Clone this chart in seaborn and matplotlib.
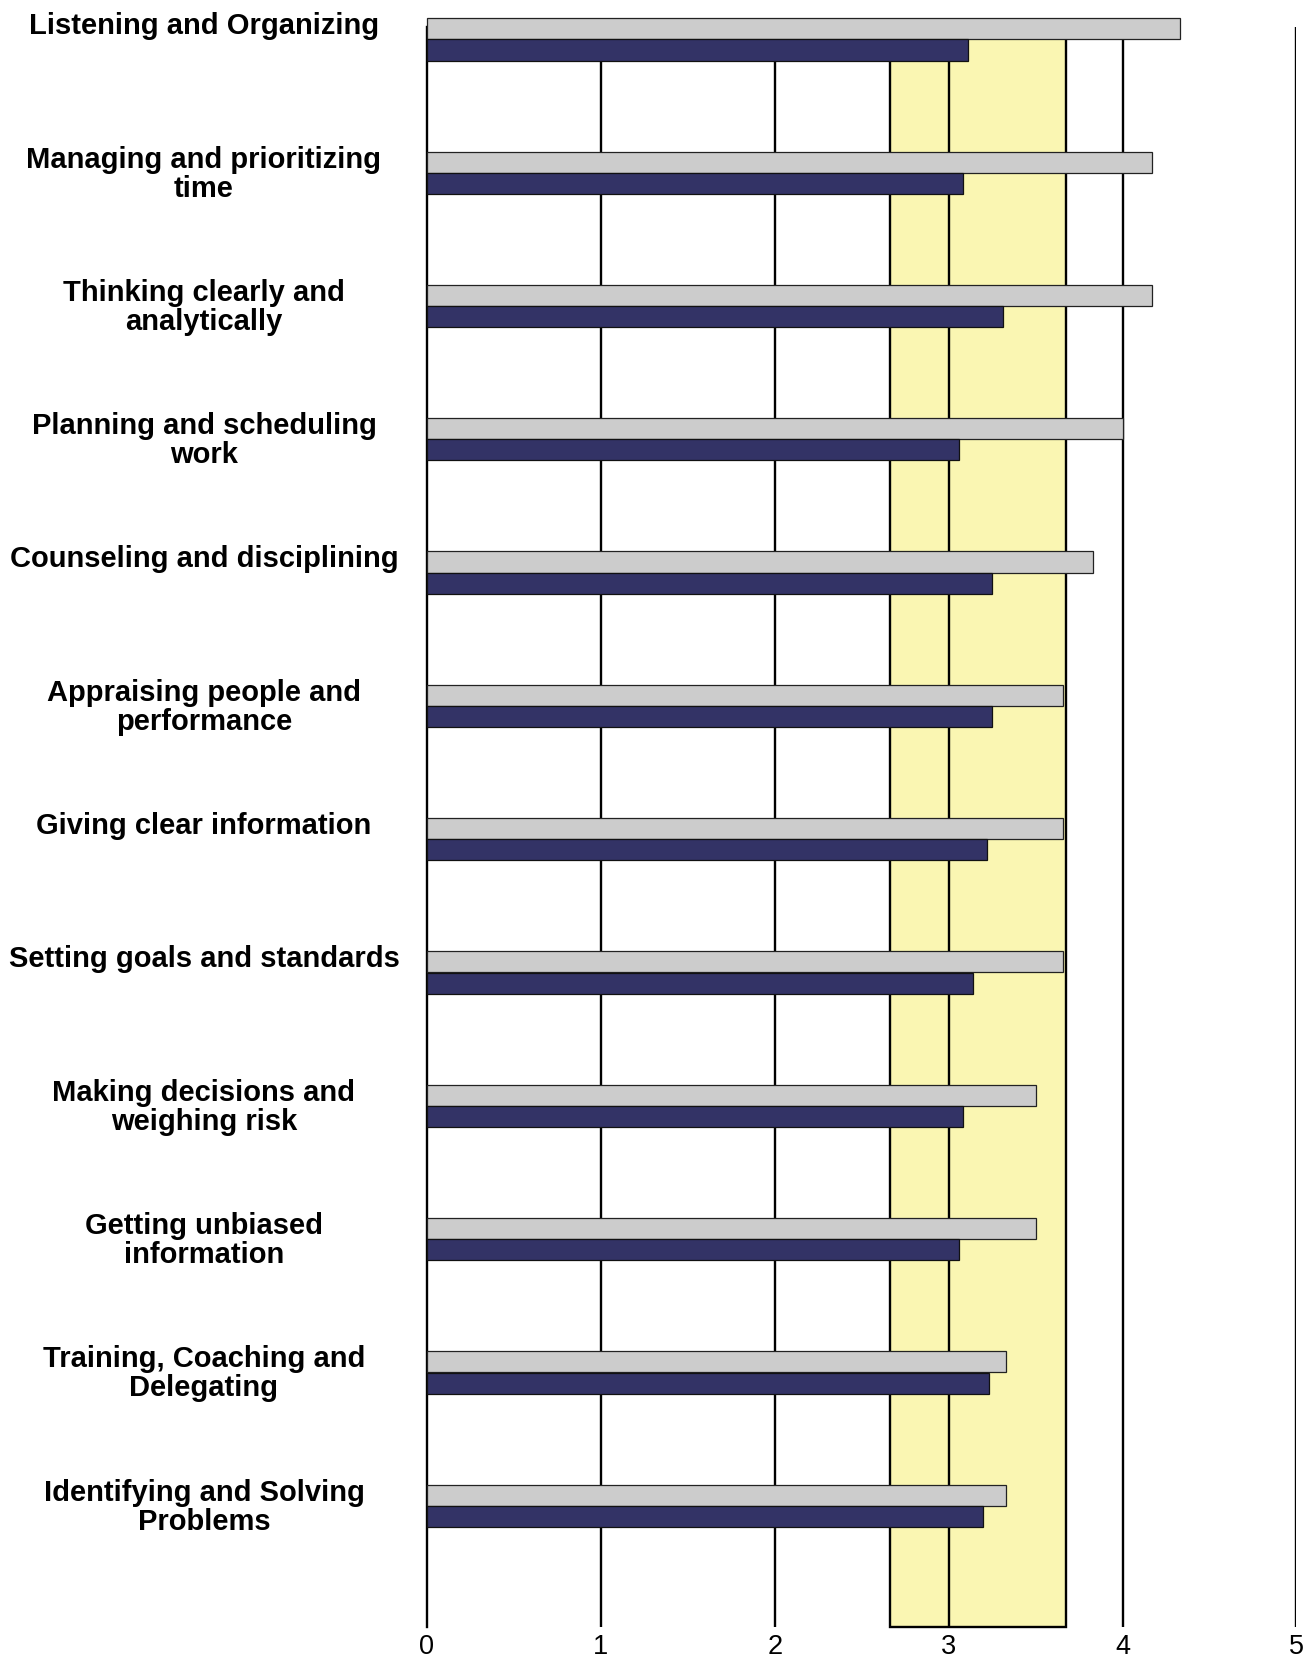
import numpy as np
import pandas as pd
import matplotlib
matplotlib.use("Agg")
import matplotlib.pyplot as plt
import matplotlib.transforms as mtransforms
import seaborn as sns

# Competency ratings: others' ratings (grey) vs self rating (navy)
categories = [
    "Listening and Organizing",
    "Managing and prioritizing\ntime",
    "Thinking clearly and\nanalytically",
    "Planning and scheduling\nwork",
    "Counseling and disciplining",
    "Appraising people and\nperformance",
    "Giving clear information",
    "Setting goals and standards",
    "Making decisions and\nweighing risk",
    "Getting unbiased\ninformation",
    "Training, Coaching and\nDelegating",
    "Identifying and Solving\nProblems",
]
others_scores = [4.33, 4.17, 4.17, 4.00, 3.83, 3.66, 3.66, 3.66, 3.50, 3.50, 3.33, 3.33]
self_scores = [3.11, 3.08, 3.31, 3.06, 3.25, 3.25, 3.22, 3.14, 3.08, 3.06, 3.23, 3.20]
norm_band = (2.665, 3.675)
x_ticks = [0, 1, 2, 3, 4, 5]

sns.set_theme(style="white")
plt.rcParams["font.family"] = ["Liberation Sans", "DejaVu Sans"]

fig = plt.figure(figsize=(13.15, 16.57), dpi=100)
ax = fig.add_axes([0.3247, 0.01835, 0.6612, 0.9654])
ax.set_facecolor("white")

slot = np.arange(len(categories))
df_others = pd.DataFrame({"score": others_scores, "pos": slot + 0.014})
df_self = pd.DataFrame({"score": self_scores, "pos": slot + 0.173})

# Norm range band
ax.axvspan(norm_band[0], norm_band[1], facecolor="#FAF6B2", edgecolor="black",
           linewidth=1.7, zorder=0.5)

# Vertical reference lines at each tick
for t in x_ticks[1:]:
    ax.axvline(t, color="black", linewidth=1.7, zorder=1)

sns.barplot(data=df_others, x="score", y="pos", orient="h", native_scale=True,
            width=0.158, color="#CCCCCC", edgecolor="#222222", linewidth=0.9,
            saturation=1, ax=ax, zorder=2)
sns.barplot(data=df_self, x="score", y="pos", orient="h", native_scale=True,
            width=0.158, color="#333366", edgecolor="#111111", linewidth=0.9,
            saturation=1, ax=ax, zorder=2)
for p in ax.patches:
    p.set_clip_on(False)

ax.set_xlim(0, 5)
ax.set_ylim(len(categories), 0)
ax.set_xlabel("")
ax.set_ylabel("")
ax.set_yticks([])
ax.set_xticks(x_ticks)
ax.set_xticklabels([str(t) for t in x_ticks], fontsize=19.5, color="black")
ax.tick_params(axis="x", length=0, pad=5)

for side in ["top", "right", "bottom"]:
    ax.spines[side].set_visible(False)
ax.spines["left"].set_visible(True)
ax.spines["left"].set_color("black")
ax.spines["left"].set_linewidth(1.7)
ax.spines["left"].set_zorder(1)

# Category labels to the left of the plot
trans = mtransforms.blended_transform_factory(ax.transAxes, ax.transData)
for i, name in enumerate(categories):
    ax.text(-0.2565, i - 0.11, name, transform=trans, ha="center", va="top",
            fontsize=21, fontweight="bold", color="black", linespacing=1.05,
            multialignment="center")

fig.savefig("out.png", dpi=100, facecolor="white")
